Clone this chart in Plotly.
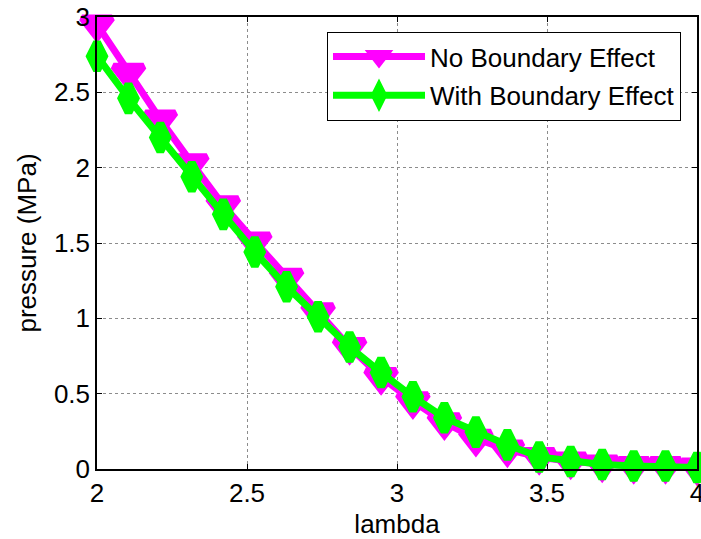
import plotly.graph_objects as go

# ---- data ----
lam = [2.0, 2.105, 2.211, 2.316, 2.421, 2.526, 2.632, 2.737, 2.842, 2.947,
       3.053, 3.158, 3.263, 3.368, 3.474, 3.579, 3.684, 3.789, 3.895, 4.0]
p_no_boundary = [2.95, 2.63, 2.32, 2.03, 1.75, 1.51, 1.27, 1.04, 0.81, 0.61,
                 0.45, 0.31, 0.20, 0.13, 0.08, 0.05, 0.03, 0.02, 0.02, 0.01]
p_with_boundary = [2.74, 2.46, 2.20, 1.94, 1.69, 1.44, 1.21, 1.01, 0.81, 0.64,
                   0.48, 0.34, 0.245, 0.16, 0.08, 0.05, 0.03, 0.02, 0.02, 0.01]
series_names = ["No Boundary Effect", "With Boundary Effect"]
x_ticks = [2, 2.5, 3, 3.5, 4]
y_ticks = [0, 0.5, 1, 1.5, 2, 2.5, 3]

FONT = "Arial, Liberation Sans, sans-serif"
FS = 26

fig = go.Figure()
fig.add_trace(go.Scatter(
    x=lam, y=p_no_boundary, name=series_names[0], mode="lines+markers",
    line=dict(color="#FF00FF", width=7),
    marker=dict(symbol="triangle-down", size=26, color="#FF00FF",
                line=dict(color="#FF00FF", width=7)),
    cliponaxis=False, legendgroup="a",
))
fig.add_trace(go.Scatter(
    x=lam, y=p_with_boundary, name=series_names[1], mode="lines+markers",
    line=dict(color="#00FF00", width=7),
    marker=dict(symbol="diamond-tall", size=20, color="#00FF00",
                line=dict(color="#00FF00", width=8)),
    cliponaxis=False, legendgroup="b",
))

axis_common = dict(
    showline=True, linecolor="black", linewidth=1.5, mirror="ticks",
    ticks="inside", ticklen=5, tickwidth=1, tickcolor="black",
    showgrid=True, gridcolor="#8c8c8c", griddash="dot", gridwidth=1,
    zeroline=False, tickfont=dict(family=FONT, size=FS, color="black"),
    ticklabeloverflow="allow",
)

fig.update_layout(
    width=701, height=539,
    margin=dict(l=97, r=4, t=17, b=70, autoexpand=False),
    paper_bgcolor="white", plot_bgcolor="white",
    font=dict(family=FONT, size=FS, color="black"),
    xaxis=dict(range=[2, 4], tickvals=x_ticks, ticktext=[str(v) for v in x_ticks],
               title=dict(text="lambda", font=dict(family=FONT, size=FS), standoff=19),
               **axis_common),
    yaxis=dict(range=[0, 3], tickvals=y_ticks, ticktext=[("%g" % v) for v in y_ticks],
               title=dict(text="pressure (MPa)", font=dict(family=FONT, size=FS), standoff=10),
               **axis_common),
    legend=dict(
        x=0.973, y=0.967, xanchor="right", yanchor="top",
        bgcolor="white", bordercolor="black", borderwidth=1.2,
        font=dict(family=FONT, size=FS, color="black"),
        itemwidth=92, tracegroupgap=2, itemsizing="trace",
    ),
    showlegend=True,
)

fig.write_html("out.html")
